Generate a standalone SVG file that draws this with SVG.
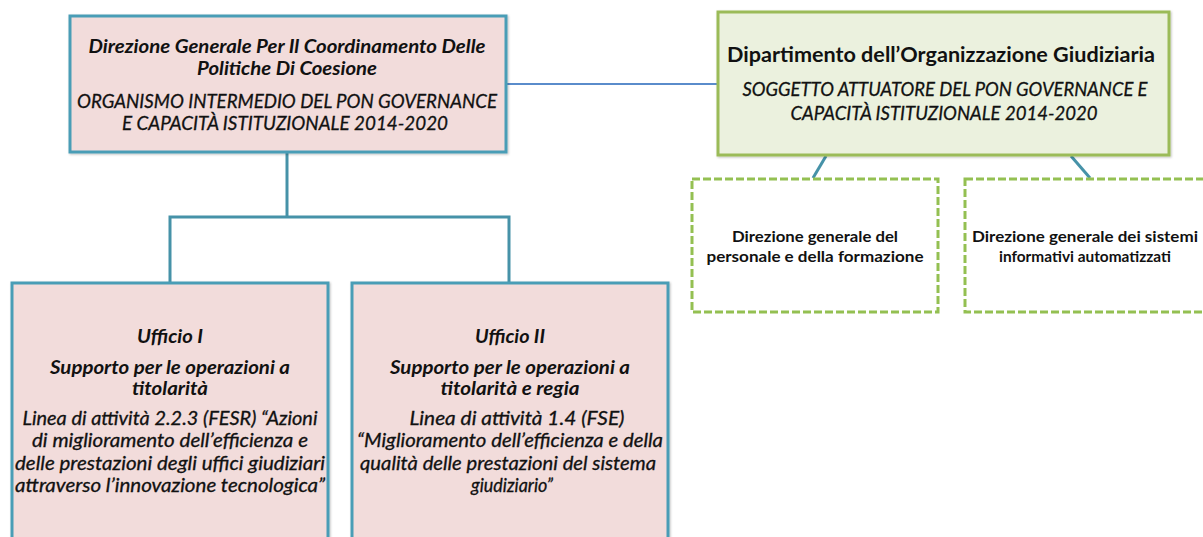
<svg xmlns="http://www.w3.org/2000/svg" width="1203" height="537" viewBox="0 0 1203 537">
<defs>
<filter id="sh" x="-5%" y="-5%" width="110%" height="110%"><feDropShadow dx="1" dy="1" stdDeviation="1" flood-color="#000" flood-opacity="0.25"/></filter>
</defs>
<style>
.pink{fill:#f2dcdb;stroke:#4a9db6;stroke-width:3}
.green{fill:#ebf1de;stroke:#9bbb59;stroke-width:3}
.dash{fill:#ffffff;stroke:#94c052;stroke-width:3;stroke-dasharray:8 3}
.conn{fill:none;stroke:#4692a8;stroke-width:3}
.blue{fill:none;stroke:#5a8ccb;stroke-width:2}
text{font-family:Lato,"Liberation Sans",sans-serif;fill:#111111;text-anchor:middle}
.bi{font-weight:bold;font-style:italic;font-size:19px}
.it{font-style:italic;font-size:19px;stroke:#111111;stroke-width:0.3}
.b{font-weight:bold;font-size:16px}
.t{font-weight:bold;font-size:21px}
</style>
<rect width="1203" height="537" fill="#ffffff"/>
<g id="connectors">
<line class="blue" x1="506" y1="84" x2="718" y2="84"/>
<polyline class="conn" points="287,152 287,217"/>
<polyline class="conn" points="170,283 170,217 509,217 509,283"/>
<line class="conn" x1="826" y1="156" x2="813" y2="178"/>
<line class="conn" x1="1071" y1="156" x2="1090" y2="178"/>
</g>
<g id="dg-coordinamento">
<rect class="pink" x="70" y="16" width="436" height="136" filter="url(#sh)"/>
<text class="bi" x="287" y="53" textLength="397" lengthAdjust="spacingAndGlyphs">Direzione Generale Per Il Coordinamento Delle</text>
<text class="bi" x="287" y="75" textLength="180" lengthAdjust="spacingAndGlyphs">Politiche Di Coesione</text>
<text class="it" x="287" y="108" textLength="420" lengthAdjust="spacingAndGlyphs">ORGANISMO INTERMEDIO DEL PON GOVERNANCE</text>
<text class="it" x="285" y="130" textLength="326" lengthAdjust="spacingAndGlyphs">E CAPACITÀ ISTITUZIONALE 2014-2020</text>
</g>
<g id="dip-organizzazione">
<rect class="green" x="718" y="12" width="451" height="143" filter="url(#sh)"/>
<text class="t" x="941" y="62" textLength="428" lengthAdjust="spacingAndGlyphs">Dipartimento dell’Organizzazione Giudiziaria</text>
<text class="it" x="945" y="96" textLength="405" lengthAdjust="spacingAndGlyphs">SOGGETTO ATTUATORE DEL PON GOVERNANCE E</text>
<text class="it" x="944" y="120" textLength="307" lengthAdjust="spacingAndGlyphs">CAPACITÀ ISTITUZIONALE 2014-2020</text>
</g>
<g id="dg-personale">
<rect class="dash" x="692" y="179" width="246" height="133"/>
<text class="b" x="815" y="242" textLength="166" lengthAdjust="spacingAndGlyphs">Direzione generale del</text>
<text class="b" x="815" y="262" textLength="217" lengthAdjust="spacingAndGlyphs">personale e della formazione</text>
</g>
<g id="dg-sistemi">
<rect class="dash" x="965" y="179" width="250" height="133"/>
<text class="b" x="1085" y="242" textLength="226" lengthAdjust="spacingAndGlyphs">Direzione generale dei sistemi</text>
<text class="b" x="1085" y="262" textLength="172" lengthAdjust="spacingAndGlyphs">informativi automatizzati</text>
</g>
<g id="ufficio-1">
<rect class="pink" x="12" y="283" width="316" height="262" filter="url(#sh)"/>
<text class="bi" x="170" y="343" textLength="66" lengthAdjust="spacingAndGlyphs">Ufficio I</text>
<text class="bi" x="170" y="374" textLength="240" lengthAdjust="spacingAndGlyphs">Supporto per le operazioni a</text>
<text class="bi" x="170" y="395" textLength="76" lengthAdjust="spacingAndGlyphs">titolarità</text>
<text class="it" x="170" y="425" textLength="295" lengthAdjust="spacingAndGlyphs">Linea di attività 2.2.3 (FESR) “Azioni</text>
<text class="it" x="170" y="447" textLength="276" lengthAdjust="spacingAndGlyphs">di miglioramento dell’efficienza e</text>
<text class="it" x="170" y="470" textLength="310" lengthAdjust="spacingAndGlyphs">delle prestazioni degli uffici giudiziari</text>
<text class="it" x="170" y="492" textLength="310" lengthAdjust="spacingAndGlyphs">attraverso l’innovazione tecnologica”</text>
</g>
<g id="ufficio-2">
<rect class="pink" x="352" y="283" width="316" height="262" filter="url(#sh)"/>
<text class="bi" x="510" y="343" textLength="70" lengthAdjust="spacingAndGlyphs">Ufficio II</text>
<text class="bi" x="510" y="374" textLength="240" lengthAdjust="spacingAndGlyphs">Supporto per le operazioni a</text>
<text class="bi" x="510" y="395" textLength="139" lengthAdjust="spacingAndGlyphs">titolarità e regia</text>
<text class="it" x="517" y="425" textLength="215" lengthAdjust="spacingAndGlyphs">Linea di attività 1.4 (FSE)</text>
<text class="it" x="510" y="447" textLength="306" lengthAdjust="spacingAndGlyphs">“Miglioramento dell’efficienza e della</text>
<text class="it" x="508" y="470" textLength="296" lengthAdjust="spacingAndGlyphs">qualità delle prestazioni del sistema</text>
<text class="it" x="512" y="492" textLength="82" lengthAdjust="spacingAndGlyphs">giudiziario”</text>
</g>
</svg>
